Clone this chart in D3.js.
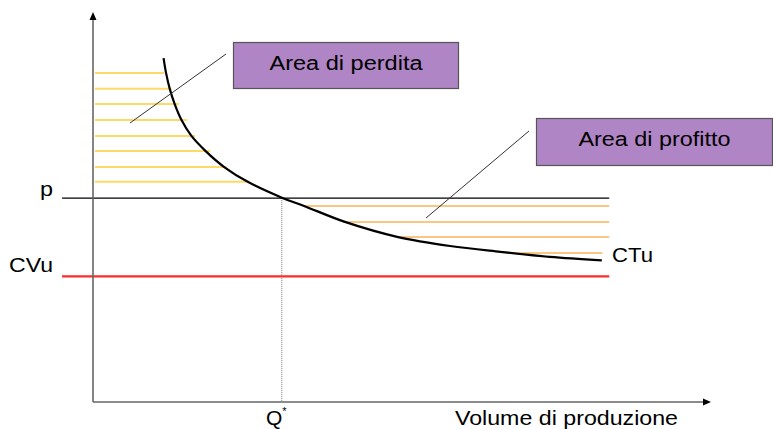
<!DOCTYPE html>
<html><head><meta charset="utf-8">
<script src="https://cdn.jsdelivr.net/npm/d3@7"></script>
<style>body{margin:0;background:#fff}svg{display:block}text{font-family:"Liberation Sans",Arial,sans-serif}</style>
</head><body><svg id="c" width="773" height="429"></svg>
<script>
// Data (abstract units: quantity 0-100, cost 0-100)
const ctuX = [11.4, 11.8, 12.4, 13.2, 14.3, 15.9, 18.2, 21.2, 25.0, 30.7, 34.1, 40.7, 49.3, 57.7, 65.8, 73.8, 82.2];
const ctuY = [88.4, 84.6, 80.5, 76.6, 72.5, 68.4, 64.5, 60.4, 56.6, 52.4, 50.4, 46.3, 42.4, 40.1, 38.6, 37.3, 36.4];
const priceP = 52.4;
const cvu = 32.3;
const qStar = 30.5;
const lossY = [84.6, 80.5, 76.6, 72.5, 68.4, 64.5, 60.4, 56.6];
const lossEnd = [11.5, 12.7, 13.9, 15.2, 16.5, 18.9, 21.6, 25.2];
const profitY = [50.4, 46.3, 42.4, 38.3];
const profitStart = [34.0, 40.4, 49.3, 66.5];
const profitEnd = [83.4, 83.4, 83.4, 82.3];
const labels = {p: "p", cvu: "CVu", ctu: "CTu", q: "Q", xTitle: "Volume di produzione", loss: "Area di perdita", profit: "Area di profitto"};

const svg = d3.select("#c");
const x = d3.scaleLinear().domain([0, 100]).range([93, 712]);
const y = d3.scaleLinear().domain([0, 100]).range([402, 13]);

// loss area lines
svg.selectAll(".loss").data(lossY).join("line")
  .attr("x1", x(0.3)).attr("x2", (d, i) => x(lossEnd[i]))
  .attr("y1", d => y(d)).attr("y2", d => y(d))
  .attr("stroke", "#ffd966").attr("stroke-width", 2);
// profit area lines
svg.selectAll(".profit").data(profitY).join("line")
  .attr("x1", (d, i) => x(profitStart[i])).attr("x2", (d, i) => x(profitEnd[i]))
  .attr("y1", d => y(d)).attr("y2", d => y(d))
  .attr("stroke", "#f9c784").attr("stroke-width", 2);

// Q* dotted
svg.append("line").attr("x1", x(qStar)).attr("x2", x(qStar)).attr("y1", y(priceP)).attr("y2", y(0))
  .attr("stroke", "#777").attr("stroke-width", 1).attr("stroke-dasharray", "1,1");

// p line
svg.append("line").attr("x1", x(-5)).attr("x2", x(83.4)).attr("y1", y(priceP)).attr("y2", y(priceP))
  .attr("stroke", "#000").attr("stroke-width", 1.2);
// CVu line
svg.append("line").attr("x1", x(-5)).attr("x2", x(83.4)).attr("y1", y(cvu)).attr("y2", y(cvu))
  .attr("stroke", "#ff2a2a").attr("stroke-width", 2.2);

// axes
const axC = "#666";
svg.append("line").attr("x1", x(0)).attr("x2", x(0)).attr("y1", y(0)).attr("y2", y(98.5)).attr("stroke", axC).attr("stroke-width", 1.6);
svg.append("line").attr("x1", x(0)).attr("x2", x(99)).attr("y1", y(0)).attr("y2", y(0)).attr("stroke", axC).attr("stroke-width", 1.6);
svg.append("path").attr("d", `M${x(0)},${y(100)-1} l-3.5,8 h7 z`).attr("fill", "#000");
svg.append("path").attr("d", `M${x(100)-1},${y(0)} l-8,-3.5 v7 z`).attr("fill", "#000");

// CTu curve
const pts = ctuX.map((v, i) => [x(v), y(ctuY[i])]);
svg.append("path").attr("d", d3.line().curve(d3.curveCatmullRom.alpha(0.5))(pts))
  .attr("fill", "none").attr("stroke", "#000").attr("stroke-width", 2.2);

// leader lines
svg.append("line").attr("x1", 226).attr("y1", 54).attr("x2", 130).attr("y2", 123).attr("stroke", "#333").attr("stroke-width", 1);
svg.append("line").attr("x1", 529).attr("y1", 131).attr("x2", 426).attr("y2", 218).attr("stroke", "#333").attr("stroke-width", 1);

function label(tx, ty, t, w, anchor) {
  return svg.append("text").attr("x", tx).attr("y", ty).attr("text-anchor", anchor || "start")
    .attr("font-size", 21).attr("fill", "#000")
    .attr("textLength", w).attr("lengthAdjust", "spacingAndGlyphs").text(t);
}
// boxes
function box(x0, y0, w, h, t, tw) {
  svg.append("rect").attr("x", x0).attr("y", y0).attr("width", w).attr("height", h)
    .attr("fill", "#b085c5").attr("stroke", "#555").attr("stroke-width", 1.2);
  label(x0 + w / 2, y0 + 27.5, t, tw, "middle").attr("font-size", 20);
}
box(233.5, 42.5, 225, 46, labels.loss, 153);
box(536.5, 118.5, 236, 47, labels.profit, 152);

// labels
label(53, 196, labels.p, 13, "end");
label(53, 272, labels.cvu, 44, "end");
label(612, 262, labels.ctu, 41);
const qt = svg.append("text").attr("x", 266).attr("y", 425).attr("font-size", 21);
qt.append("tspan").text(labels.q);
qt.append("tspan").attr("font-size", 11).attr("dy", -10).text("*");
label(455, 425, labels.xTitle, 223);
</script></body></html>
